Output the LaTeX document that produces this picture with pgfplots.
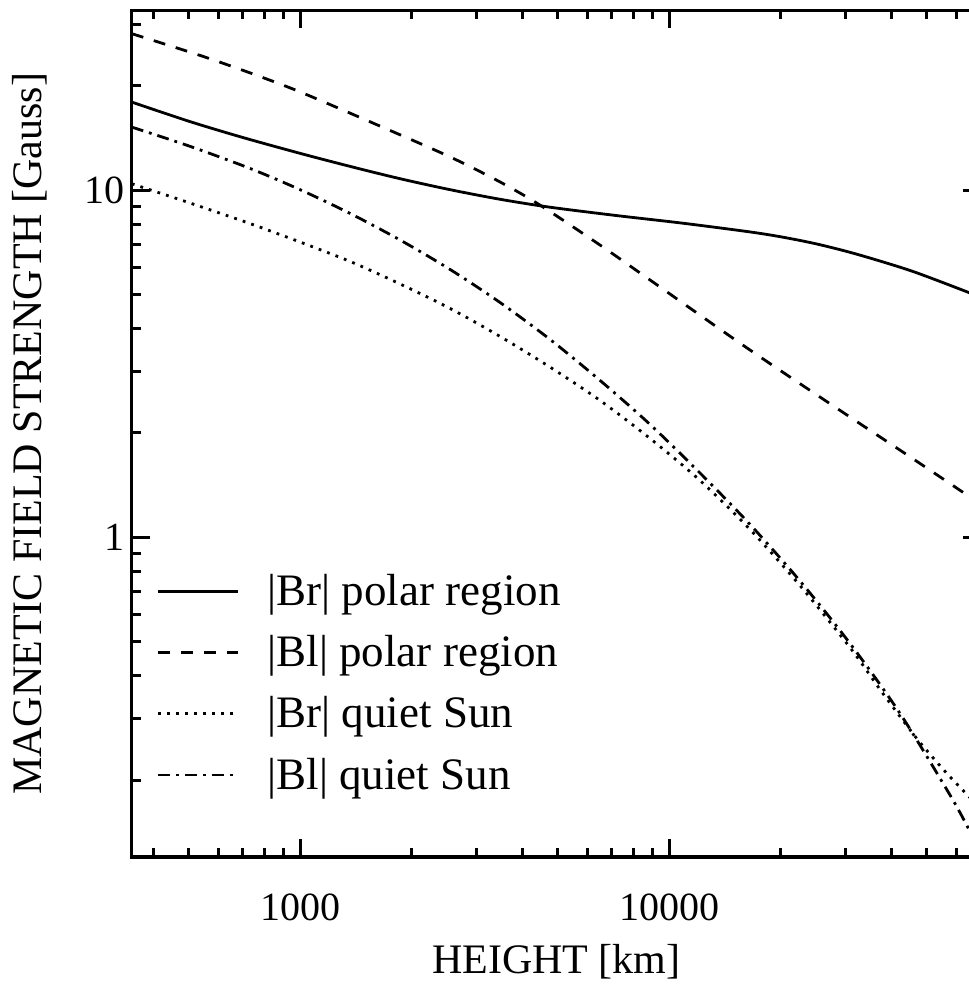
\documentclass[border=0pt]{standalone}
\usepackage{fontspec}
\setmainfont{Liberation Serif}
\usepackage{pgfplots}
\pgfplotsset{compat=1.18}
\begin{document}
\begin{tikzpicture}
\useasboundingbox (-65.9pt,-64.5pt) rectangle (418.6pt,428.5pt);
\begin{axis}[
  at={(0,0)}, anchor=south west,
  scale only axis,
  width=424.5pt, height=423.25pt,
  xmode=log, ymode=log,
  xmin=350, xmax=70000, ymin=0.12, ymax=33,
  axis line style={line width=1.6pt},
  every tick/.style={line width=1.5pt, black},
  major tick length=9pt, minor tick length=4.5pt,
  tick align=inside,
  xtick={1000,10000}, xticklabels={1000,10000},
  ytick={1,10}, yticklabels={1,10},
  minor xtick={400,500,600,700,800,900,2000,3000,4000,5000,6000,7000,8000,9000,20000,30000,40000,50000,60000},
  minor ytick={0.2,0.3,0.4,0.5,0.6,0.7,0.8,0.9,2,3,4,5,6,7,8,9,20,30},
  tick label style={font=\fontsize{20}{24}\selectfont},
  xticklabel style={anchor=center, yshift=-25pt},
  label style={font=\fontsize{21}{25}\selectfont},
  xlabel={HEIGHT [km]},
  ylabel={MAGNETIC FIELD STRENGTH [Gauss]},
  xlabel style={at={(axis description cs:0.5,-0.124)}, anchor=center},
  ylabel style={at={(axis description cs:-0.12,0.5)}, anchor=center},
  legend style={at={(axis description cs:0.022,0.344)}, anchor=north west,
    draw=none, fill=none, font=\fontsize{22.5}{27}\selectfont,
    row sep=9.5pt, column sep=12pt, nodes={inner sep=2pt}},
  legend cell align=left,
  legend image code/.code={\draw[#1] (0pt,0pt) -- (40pt,0pt);},
  every axis plot/.append style={line width=1.4pt, black},
]
\addplot[solid, smooth] coordinates {
(350,17.97) (503,15.79) (701,14.20) (1000,12.79) (1366,11.73) (1866,10.81)
(2550,10.05) (3483,9.43) (4760,8.946) (7228,8.461) (10913,8.044)
(16580,7.593) (20370,7.332) (25170,7.008) (30940,6.632) (38000,6.223)
(46960,5.788) (65010,5.077) (70000,4.908)};
\addlegendentry{|Br| polar region}
\addplot[dash pattern=on 6pt off 5.5pt, smooth] coordinates {
(350,28.29) (536,24.49) (732,21.81) (1000,19.23) (1679,15.19) (2550,12.49)
(3483,10.58) (4471,9.07) (6502,6.96) (8883,5.52) (16580,3.468)
(30940,2.223) (43060,1.762) (65010,1.314) (70000,1.246)};
\addlegendentry{|Bl| polar region}
\addplot[dash pattern=on 1.4pt off 3.1pt, smooth] coordinates {
(350,10.45) (503,9.20) (732,8.025) (1000,7.10) (1366,6.243) (1866,5.377)
(2550,4.570) (3483,3.796) (4760,3.096) (6502,2.482) (8883,1.929)
(12130,1.460) (16580,1.054) (22650,0.727) (30940,0.4819) (37310,0.3648)
(42270,0.3049) (47890,0.2565) (56040,0.2116) (65010,0.1792) (70000,0.1666)};
\addlegendentry{|Br| quiet Sun}
\addplot[dash pattern=on 6pt off 3pt on 1.4pt off 3pt, smooth] coordinates {
(350,15.22) (503,13.40) (732,11.57) (1000,10.05) (1366,8.585) (1866,7.20)
(2550,5.92) (3483,4.755) (4760,3.721) (6502,2.835) (8883,2.117)
(12130,1.534) (16580,1.090) (22650,0.749) (30940,0.4949) (42270,0.3111)
(57730,0.1812) (65010,0.1441) (70000,0.1245)};
\addlegendentry{|Bl| quiet Sun}
\end{axis}
\end{tikzpicture}
\end{document}
